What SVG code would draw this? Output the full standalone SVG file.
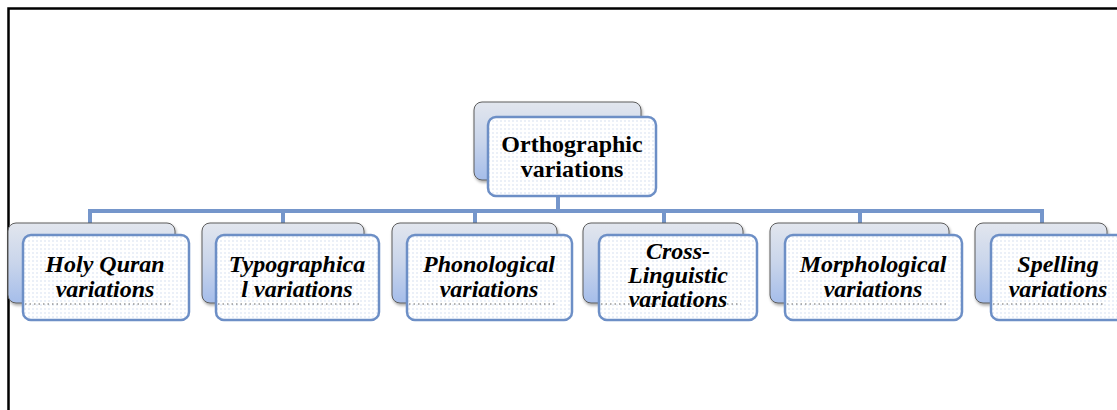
<svg xmlns="http://www.w3.org/2000/svg" width="1117" height="410" viewBox="0 0 1117 410">
<defs>
<linearGradient id="backGrad" x1="0" y1="0" x2="0" y2="1">
<stop offset="0" stop-color="#e2e6ee"/>
<stop offset="0.5" stop-color="#c9d5eb"/>
<stop offset="1" stop-color="#a5bdea"/>
</linearGradient>
<pattern id="dots" width="4" height="4" patternUnits="userSpaceOnUse">
<rect width="4" height="4" fill="#ffffff"/>
<circle cx="1" cy="1" r="0.7" fill="#c9d6ee"/>
</pattern>
<filter id="shadow" x="-10%" y="-10%" width="130%" height="130%">
<feDropShadow dx="1" dy="2" stdDeviation="1.5" flood-color="#000" flood-opacity="0.35"/>
</filter>
</defs>
<style>
.back{fill:url(#backGrad);stroke:#5c5c5c;stroke-width:1;filter:url(#shadow)}
.front{fill:url(#dots);stroke:#6d8fc6;stroke-width:2.5}
.conn{stroke:#7596cb;stroke-width:4;fill:none}
.sep{stroke:#666;stroke-width:1;stroke-dasharray:1.5 3;fill:none}
.root{font-family:"Liberation Serif","Times New Roman",serif;font-weight:bold;font-size:24px;fill:#000;text-anchor:middle}
.child{font-family:"Liberation Serif","Times New Roman",serif;font-weight:bold;font-style:italic;font-size:24px;fill:#000;text-anchor:middle}
.frame{stroke:#000;stroke-width:2.5;fill:none}
</style>
<rect width="1117" height="410" fill="#ffffff"/>
<path class="frame" d="M8.5,410 V8.5 H1117"/>
<g id="connectors">
<path class="conn" d="M558,180 V211 M90,211 H1042 M90,209 V223 M283,211 V223 M475,211 V223 M664,211 V223 M860,211 V223 M1042,209 V223"/>
</g>
<g id="root">
<rect class="back" x="474" y="102" width="167" height="78" rx="8"/>
<rect class="front" x="488" y="117" width="168" height="79" rx="8"/>
<text class="root" x="572" y="152">Orthographic</text>
<text class="root" x="572" y="177">variations</text>
</g>
<g id="holy-quran">
<rect class="back" x="8" y="223" width="167" height="80" rx="8"/>
<rect class="front" x="23" y="235" width="166" height="85" rx="8"/>
<path class="sep" d="M25,304 H173"/>
<text class="child" x="105" y="272">Holy Quran</text>
<text class="child" x="105" y="297">variations</text>
</g>
<g id="typographical">
<rect class="back" x="202" y="223" width="162" height="80" rx="8"/>
<rect class="front" x="216" y="235" width="163" height="85" rx="8"/>
<path class="sep" d="M218,304 H362"/>
<text class="child" x="297" y="272">Typographica</text>
<text class="child" x="297" y="297">l variations</text>
</g>
<g id="phonological">
<rect class="back" x="392" y="223" width="165" height="80" rx="8"/>
<rect class="front" x="407" y="235" width="165" height="85" rx="8"/>
<path class="sep" d="M409,304 H555"/>
<text class="child" x="489" y="272">Phonological</text>
<text class="child" x="489" y="297">variations</text>
</g>
<g id="cross-linguistic">
<rect class="back" x="583" y="223" width="160" height="80" rx="8"/>
<rect class="front" x="599" y="235" width="158" height="85" rx="8"/>
<path class="sep" d="M601,304 H741"/>
<text class="child" x="678" y="259">Cross-</text>
<text class="child" x="678" y="283">Linguistic</text>
<text class="child" x="678" y="307">variations</text>
</g>
<g id="morphological">
<rect class="back" x="770" y="223" width="179" height="80" rx="8"/>
<rect class="front" x="785" y="235" width="177" height="85" rx="8"/>
<path class="sep" d="M787,304 H947"/>
<text class="child" x="873" y="272">Morphological</text>
<text class="child" x="873" y="297">variations</text>
</g>
<g id="spelling">
<rect class="back" x="975" y="223" width="132" height="80" rx="8"/>
<rect class="front" x="991" y="235" width="136" height="85" rx="8"/>
<path class="sep" d="M993,304 H1105"/>
<text class="child" x="1058" y="272">Spelling</text>
<text class="child" x="1058" y="297">variations</text>
</g>
</svg>
